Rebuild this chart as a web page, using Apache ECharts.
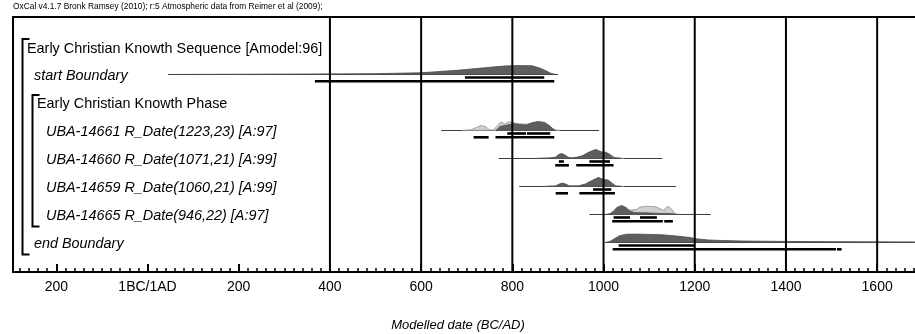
<!DOCTYPE html>
<html>
<head>
<meta charset="utf-8">
<title>Early Christian Knowth – modelled dates</title>
<script src="https://cdn.jsdelivr.net/npm/echarts@6/dist/echarts.min.js"></script>
<style>
  html, body { margin: 0; padding: 0; background: #fff; }
  #chart { width: 915px; height: 334px; }
</style>
</head>
<body>
<div id="chart"></div>
<script>
// ---- text ----
const header = 'OxCal v4.1.7 Bronk Ramsey (2010); r:5 Atmospheric data from Reimer et al (2009);';
const axisTitle = 'Modelled date (BC/AD)';

const rowLabels = [
  'Early Christian Knowth Sequence [Amodel:96]',
  'start Boundary',
  'Early Christian Knowth Phase',
  'UBA-14661 R_Date(1223,23) [A:97]',
  'UBA-14660 R_Date(1071,21) [A:99]',
  'UBA-14659 R_Date(1060,21) [A:99]',
  'UBA-14665 R_Date(946,22) [A:97]',
  'end Boundary'
];
const rowKinds = ['sequence', 'boundary', 'phase', 'date', 'date', 'date', 'date', 'boundary'];
// model structure: [first row, last row] of each bracketed group
const groupRows = [[0, 7], [2, 6]];

// ---- axis ----
const tickYears = [-200, 0, 200, 400, 600, 800, 1000, 1200, 1400, 1600];
const tickLabels = ['200', '1BC/1AD', '200', '400', '600', '800', '1000', '1200', '1400', '1600'];
const gridYears = [400, 600, 800, 1000, 1200, 1400, 1600];

// ---- distributions: [year AD, relative probability] ----
const startBoundarySpan = [45, 900];
const startBoundaryPost = [[50, 0], [200, 0.02], [350, 0.05], [500, 0.09], [600, 0.19], [680, 0.47], [740, 0.75],
  [780, 0.93], [810, 1], [843, 0.97], [860, 0.72], [875, 0.38], [885, 0.12], [895, 0]];
const startBoundary68 = [[696, 870]];
const startBoundary95 = [[367, 892]];

const uba14661Span = [644, 990];
const uba14661Prior = [[690, 0], [710, 0.08], [722, 0.35], [732, 0.55], [742, 0.4], [750, 0.08], [758, 0.05],
  [766, 0.45], [775, 0.98], [783, 0.7], [793, 0.98], [803, 0.85], [815, 0.75], [830, 0.7], [845, 0.85],
  [860, 0.9], [875, 0.75], [885, 0.35], [895, 0.05], [905, 0]];
const uba14661Post = [[764, 0], [773, 0.45], [788, 0.6], [802, 0.75], [817, 0.65], [831, 0.6], [846, 0.9],
  [857, 1.0], [871, 0.9], [882, 0.5], [890, 0.1], [895, 0]];
const uba14661R68 = [[789, 830], [832, 883]];
const uba14661R95 = [[715, 748], [763, 892]];

const uba14660Span = [770, 1129];
const uba14660Prior = [[850, 0], [895, 0.1], [903, 0.42], [910, 0.47], [918, 0.3], [925, 0.1], [935, 0.08],
  [950, 0.25], [965, 0.62], [980, 0.96], [992, 0.78], [1005, 0.72], [1015, 0.45], [1025, 0.1], [1045, 0]];
const uba14660Post = [[850, 0], [880, 0.03], [895, 0.15], [902, 0.45], [908, 0.55], [915, 0.4], [922, 0.1],
  [930, 0.05], [940, 0.1], [955, 0.3], [968, 0.7], [984, 1.0], [995, 0.7], [1007, 0.62], [1015, 0.35],
  [1022, 0.08], [1040, 0]];
const uba14660R68 = [[902, 913], [969, 1014]];
const uba14660R95 = [[894, 924], [940, 1022]];

const uba14659Span = [815, 1159];
const uba14659Prior = [[870, 0], [895, 0.07], [903, 0.28], [910, 0.38], [917, 0.27], [925, 0.07], [945, 0.07],
  [960, 0.28], [975, 0.68], [988, 0.97], [1000, 0.8], [1010, 0.72], [1019, 0.4], [1028, 0.06], [1045, 0]];
const uba14659Post = [[870, 0], [895, 0.05], [903, 0.25], [910, 0.37], [917, 0.25], [925, 0.05], [945, 0.05],
  [960, 0.25], [975, 0.65], [989, 1.0], [1000, 0.75], [1010, 0.68], [1018, 0.35], [1025, 0.05], [1040, 0]];
const uba14659R68 = [[977, 1017]];
const uba14659R95 = [[895, 922], [947, 1025]];

const uba14665Span = [969, 1235];
const uba14665Prior = [[1010, 0], [1020, 0.2], [1030, 0.5], [1040, 0.62], [1050, 0.55], [1060, 0.5], [1072, 0.55],
  [1080, 0.82], [1090, 0.9], [1105, 0.9], [1115, 0.85], [1125, 0.6], [1132, 0.45], [1138, 0.8], [1143, 0.88],
  [1150, 0.55], [1157, 0.05], [1165, 0]];
const uba14665Post = [[1005, 0], [1015, 0.1], [1022, 0.4], [1030, 0.8], [1040, 1.0], [1050, 0.75], [1058, 0.35],
  [1068, 0.22], [1080, 0.2], [1095, 0.18], [1110, 0.15], [1125, 0.12], [1140, 0.12], [1150, 0.08],
  [1160, 0.02], [1170, 0]];
const uba14665R68 = [[1022, 1058], [1080, 1117]];
const uba14665R95 = [[1019, 1130], [1133, 1152]];

const endBoundarySpan = [1003, 1700];
const endBoundaryPost = [[1005, 0], [1015, 0.15], [1025, 0.45], [1035, 0.75], [1050, 0.92], [1070, 0.93],
  [1100, 0.9], [1130, 0.85], [1160, 0.72], [1190, 0.55], [1205, 0.4], [1230, 0.28], [1260, 0.22],
  [1300, 0.17], [1350, 0.14], [1400, 0.12], [1450, 0.1], [1500, 0.09], [1600, 0.07], [1700, 0.06]];
const endBoundary68 = [[1033, 1199]];
const endBoundary95 = [[1020, 1510], [1512, 1522]];

// one entry per plotted row
const dists = [
  { row: 1, span: startBoundarySpan, prior: null, post: startBoundaryPost, r68: startBoundary68, r95: startBoundary95 },
  { row: 3, span: uba14661Span, prior: uba14661Prior, post: uba14661Post, r68: uba14661R68, r95: uba14661R95 },
  { row: 4, span: uba14660Span, prior: uba14660Prior, post: uba14660Post, r68: uba14660R68, r95: uba14660R95 },
  { row: 5, span: uba14659Span, prior: uba14659Prior, post: uba14659Post, r68: uba14659R68, r95: uba14659R95 },
  { row: 6, span: uba14665Span, prior: uba14665Prior, post: uba14665Post, r68: uba14665R68, r95: uba14665R95 },
  { row: 7, span: endBoundarySpan, prior: null, post: endBoundaryPost, r68: endBoundary68, r95: endBoundary95 }
];

// ---- drawing ----
const FONT = "'Liberation Sans', Arial, Helvetica, sans-serif";
const X_MIN = -295, X_MAX = 1683;
const minorYears = [];
for (let y = -280; y <= 1680; y += 20) minorYears.push(y);

const PEAK = 9;          // px height of a probability of 1
const labelIndent = { sequence: 14, boundary: 21, phase: 24, date: 33 };
const labelFont = {
  sequence: '14.4px ' + FONT, phase: '14.4px ' + FONT,
  boundary: 'italic 14.4px ' + FONT, date: 'italic 14.4px ' + FONT
};

function renderDist(params, api) {
  const d = dists[api.value(2)];
  const y0 = api.coord([0, d.row])[1] - 0.5;
  const px = yr => api.coord([yr, d.row])[0];
  const children = [];
  children.push({
    type: 'line',
    shape: { x1: px(d.span[0]), y1: y0, x2: px(d.span[1]), y2: y0 },
    style: { stroke: '#3c3c3c', lineWidth: 1 }
  });
  const poly = (pts, fill, stroke) => {
    const p = pts.map(([yr, v]) => [px(yr), y0 - v * PEAK]);
    p.unshift([p[0][0], y0]);
    p.push([p[p.length - 1][0], y0]);
    return { type: 'polygon', shape: { points: p }, style: { fill, stroke, lineWidth: 0.8 } };
  };
  if (d.prior) children.push(poly(d.prior, '#d0d0d0', '#8c8c8c'));
  children.push(poly(d.post, '#5e5e5e', '#4a4a4a'));
  const bar = (r, off) => ({
    type: 'rect',
    shape: { x: px(r[0]), y: y0 + off - 1.3, width: px(r[1]) - px(r[0]), height: 2.6 },
    style: { fill: '#000' }
  });
  d.r68.forEach(r => children.push(bar(r, 3)));
  d.r95.forEach(r => children.push(bar(r, 6.8)));
  return { type: 'group', children };
}

function renderLabel(params, api) {
  const i = api.value(2);
  const kind = rowKinds[i];
  const y = api.coord([0, i])[1] + (i === 0 ? 2.5 : 1.5);
  return {
    type: 'text',
    style: {
      text: rowLabels[i], x: params.coordSys.x + labelIndent[kind], y,
      font: labelFont[kind], fill: '#000', align: 'left', verticalAlign: 'middle'
    }
  };
}

function renderBracket(params, api) {
  const depth = api.value(2);
  const g = groupRows[depth];
  const x = params.coordSys.x + 9.5 + depth * 10;
  const top = api.coord([0, g[0]])[1] - 8;
  const bottom = api.coord([0, g[1]])[1] + 11.5;
  return {
    type: 'polyline',
    shape: { points: [[x + 7, top], [x, top], [x, bottom], [x + 7, bottom]] },
    style: { stroke: '#000', lineWidth: 2, fill: null }
  };
}

function renderGridLine(params, api) {
  const x = api.coord([api.value(0), 0])[0];
  const cs = params.coordSys;
  return {
    type: 'line',
    shape: { x1: x, y1: cs.y, x2: x, y2: cs.y + cs.height },
    style: { stroke: '#000', lineWidth: 2 }
  };
}

const chart = echarts.init(document.getElementById('chart'), null, { renderer: 'canvas' });
chart.setOption({
  animation: false,
  backgroundColor: '#fff',
  grid: { left: 13, right: 0, top: 17, bottom: 62, containLabel: false },
  xAxis: [
    {
      type: 'value', min: X_MIN, max: X_MAX, position: 'bottom',
      axisLine: { onZero: false, lineStyle: { color: '#000', width: 2 } },
      axisTick: { inside: true, length: 8, customValues: tickYears, lineStyle: { color: '#000', width: 2 } },
      axisLabel: {
        customValues: tickYears, color: '#000', fontSize: 14, fontFamily: FONT, margin: 8,
        formatter: v => tickLabels[tickYears.indexOf(v)]
      },
      splitLine: { show: false }
    },
    {
      type: 'value', min: X_MIN, max: X_MAX, position: 'bottom',
      axisLine: { show: false, onZero: false },
      axisTick: { inside: true, length: 4, customValues: minorYears, lineStyle: { color: '#000', width: 1.5 } },
      axisLabel: { show: false },
      splitLine: { show: false }
    },
    {
      type: 'value', min: X_MIN, max: X_MAX, position: 'top',
      axisLine: { onZero: false, lineStyle: { color: '#000', width: 2 } },
      axisTick: { show: false }, axisLabel: { show: false }, splitLine: { show: false }
    }
  ],
  yAxis: {
    type: 'value', inverse: true, min: -1.071, max: 8.036,
    axisLine: { show: true, onZero: false, lineStyle: { color: '#000', width: 2 } },
    axisTick: { show: false }, axisLabel: { show: false }, splitLine: { show: false }
  },
  graphic: [
    { type: 'text', x: 13, y: 7, style: { text: header, font: '8.4px ' + FONT, fill: '#000', align: 'left', verticalAlign: 'middle' } },
    { type: 'text', x: 458, y: 325, style: { text: axisTitle, font: 'italic 13px ' + FONT, fill: '#000', align: 'center', verticalAlign: 'middle' } }
  ],
  series: [
    {
      type: 'custom', name: 'distributions', renderItem: renderDist, clip: true, z: 2,
      data: dists.map((d, i) => [d.span[0], d.row, i])
    },
    {
      type: 'custom', name: 'grid lines', renderItem: renderGridLine, clip: true, z: 3,
      data: gridYears.map(y => [y, 0, 0])
    },
    {
      type: 'custom', name: 'labels', renderItem: renderLabel, clip: false, z: 4,
      data: rowLabels.map((l, i) => [X_MIN, i, i])
    },
    {
      type: 'custom', name: 'brackets', renderItem: renderBracket, clip: false, z: 4,
      data: groupRows.map((g, i) => [X_MIN, g[0], i])
    }
  ]
});
</script>
</body>
</html>
